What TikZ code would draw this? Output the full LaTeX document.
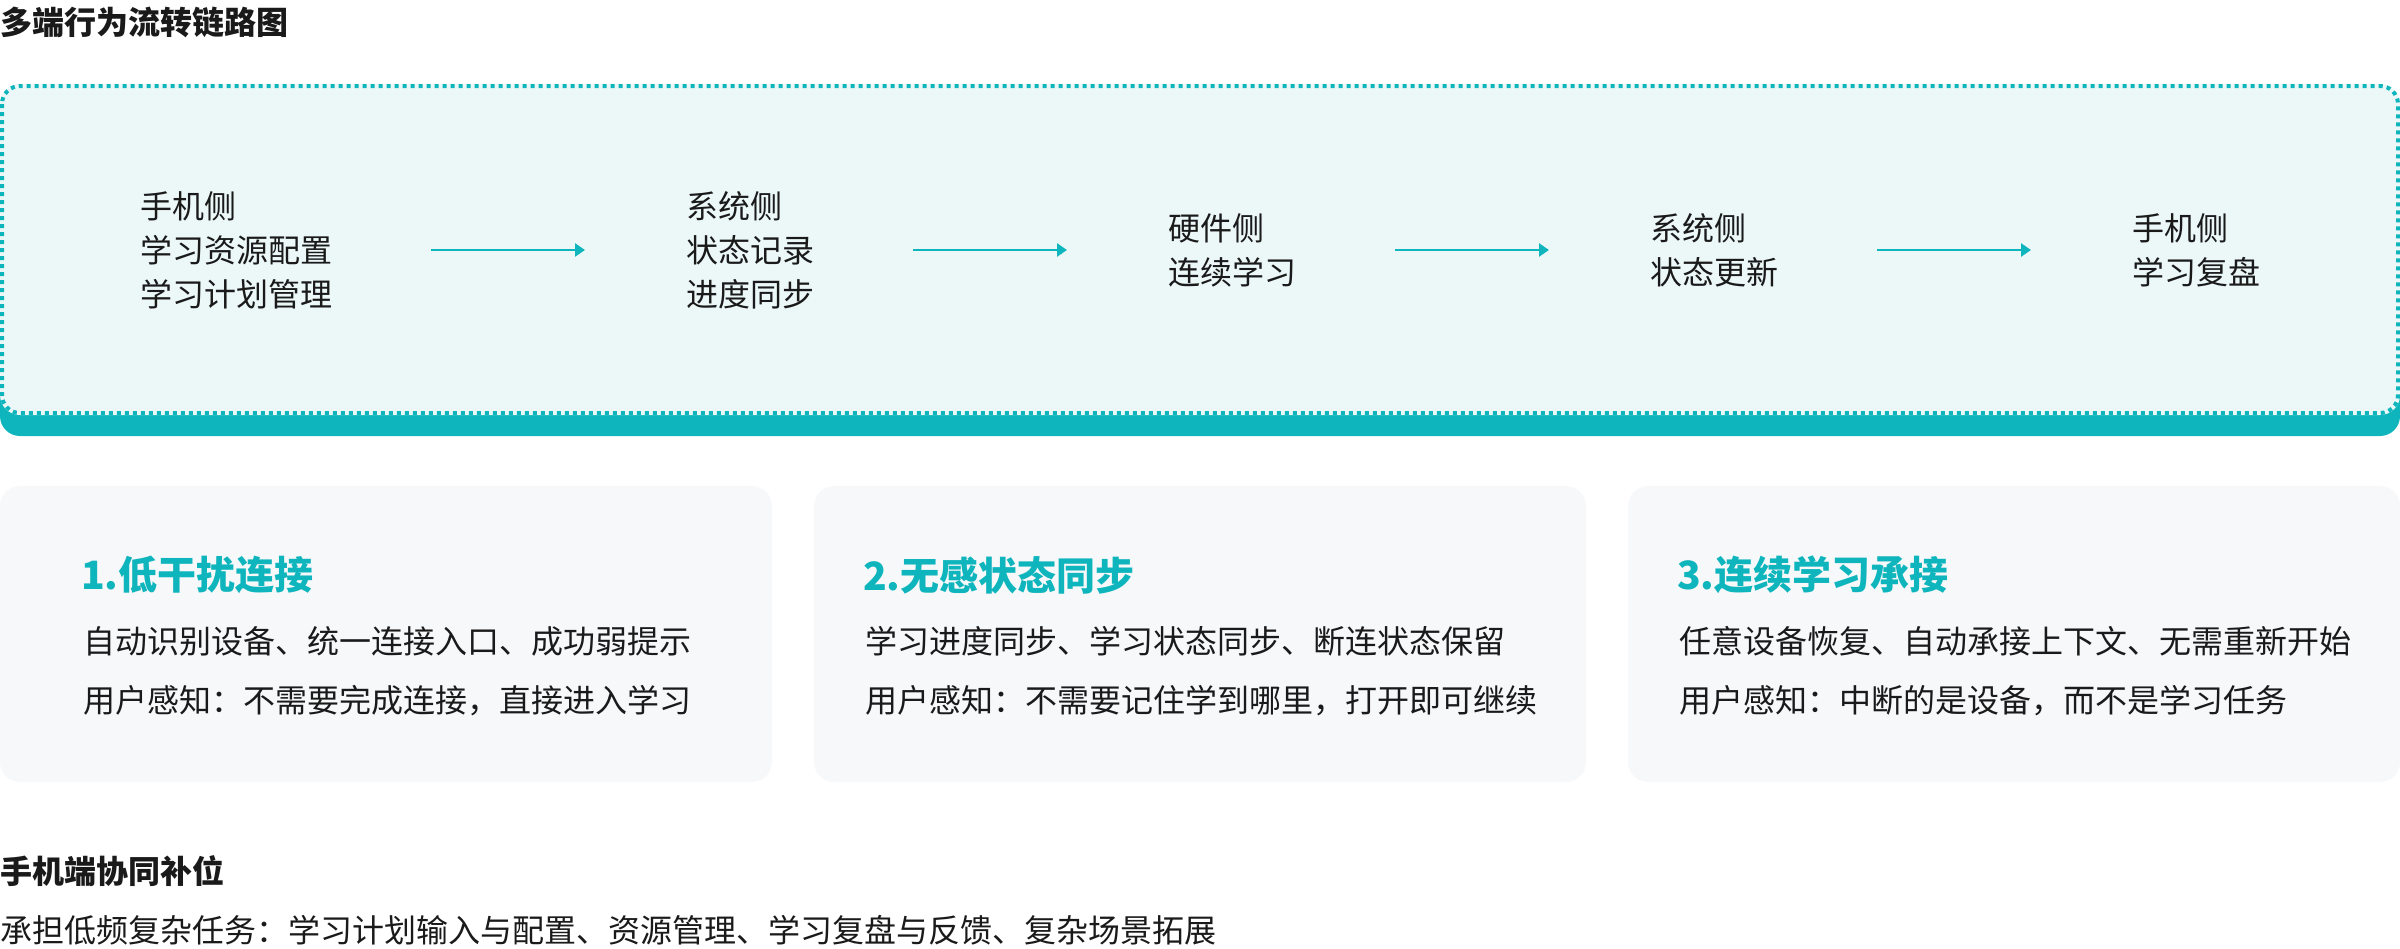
\documentclass[tikz,border=0pt]{standalone}
\usepackage{fontspec}
\setmainfont{Noto Sans CJK SC}
\usetikzlibrary{arrows.meta}
\definecolor{tealc}{HTML}{0EB5BC}
\definecolor{boxbg}{HTML}{ECF8F8}
\definecolor{cardbg}{HTML}{F7F8FA}
\definecolor{inkc}{HTML}{1A1A1A}
\begin{document}
\begin{tikzpicture}[x=1pt,y=-1pt,
  txt/.style={inner sep=0pt, outer sep=0pt, anchor=west, text=inkc, font=\fontsize{32}{44}\selectfont, align=left},
  heading/.style={txt, font=\fontsize{32}{44}\selectfont\bfseries},
  cardtitle/.style={txt, text=tealc, font=\fontsize{39}{48}\selectfont\bfseries},
  flowarrow/.style={draw=tealc, line width=2.5pt, -{Triangle[length=10pt,width=13pt]}},
  cardbox/.style={fill=cardbg, rounded corners=20pt},
]
\useasboundingbox (0,0) rectangle (2400,948);

% title
\node[heading] (title) at (1,22) {多端行为流转链路图};

% flow panel
\fill[tealc, rounded corners=20pt] (0,100) rectangle (2400,436);
\fill[boxbg, rounded corners=20pt] (0,84) rectangle (2400,415);
\draw[tealc, line width=4pt, dash pattern=on 4pt off 4pt, rounded corners=18pt] (2,86) rectangle (2398,413);

\node[txt] (c1) at (140,250) {手机侧\\学习资源配置\\学习计划管理};
\node[txt] (c2) at (686,250) {系统侧\\状态记录\\进度同步};
\node[txt] (c3) at (1168,250) {硬件侧\\连续学习};
\node[txt] (c4) at (1650,250) {系统侧\\状态更新};
\node[txt] (c5) at (2132,250) {手机侧\\学习复盘};

\draw[flowarrow] ([xshift=99pt]c1.east) -- ([xshift=-101pt]c2.west);
\draw[flowarrow] ([xshift=99pt]c2.east) -- ([xshift=-101pt]c3.west);
\draw[flowarrow] ([xshift=99pt]c3.east) -- ([xshift=-101pt]c4.west);
\draw[flowarrow] ([xshift=99pt]c4.east) -- ([xshift=-101pt]c5.west);

% cards
\path[cardbox] (0,486) rectangle (772,782);
\path[cardbox] (814,486) rectangle (1586,782);
\path[cardbox] (1628,486) rectangle (2400,782);

\node[cardtitle] (t1) at (81,575) {1.低干扰连接};
\node[txt] (d1) at (83,641) {自动识别设备、统一连接入口、成功弱提示};
\node[txt] (p1) at (83,701) {用户感知：不需要完成连接，直接进入学习};

\node[cardtitle] (t2) at (863,575) {2.无感状态同步};
\node[txt] (d2) at (865,641) {学习进度同步、学习状态同步、断连状态保留};
\node[txt] (p2) at (865,701) {用户感知：不需要记住学到哪里，打开即可继续};

\node[cardtitle] (t3) at (1677,575) {3.连续学习承接};
\node[txt] (d3) at (1679,641) {任意设备恢复、自动承接上下文、无需重新开始};
\node[txt] (p3) at (1679,701) {用户感知：中断的是设备，而不是学习任务};

% bottom
\node[heading] (h2) at (1,871) {手机端协同补位};
\node[txt] (b2) at (1,930) {承担低频复杂任务：学习计划输入与配置、资源管理、学习复盘与反馈、复杂场景拓展};
\end{tikzpicture}
\end{document}
